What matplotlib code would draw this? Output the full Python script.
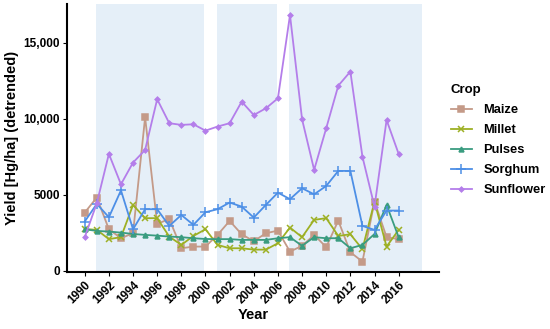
import numpy as np
import matplotlib.pyplot as plt

plt.rcParams['font.family'] = ['Liberation Sans', 'DejaVu Sans']

# Years and detrended yields (Hg/ha)
years = np.arange(1990, 2017)

maize = [3840, 4830, 2740, 2150, 2480, 10110, 3090, 3420, 1490, 1600,
         1600, 2370, 3290, 2410, 1950, 2480, 2650, 1270, 1650, 2370,
         1560, 3310, 1230, 610, 4560, 2220, 2090]
millet = [2760, 2700, 2090, 2220, 4340, 3470, 3470, 2260, 1710, 2300,
          2740, 1710, 1490, 1490, 1400, 1400, 1820, 2850, 2220, 3360,
          3470, 2300, 2410, 1430, 4560, 1600, 2700]
pulses = [2740, 2630, 2590, 2520, 2430, 2370, 2320, 2260, 2220, 2150,
          2100, 2090, 2090, 2040, 2040, 2040, 2150, 2220, 1650, 2220,
          2150, 2150, 1490, 1710, 2430, 4340, 2220]
sorghum = [3250, 4410, 3530, 5300, 2740, 4060, 4060, 2960, 3680, 3030,
           3860, 4060, 4500, 4230, 3510, 4340, 5150, 4720, 5440, 5040,
           5590, 6580, 6580, 2960, 2700, 3970, 3970]
sunflower = [2220, 4450, 7700, 5700, 7130, 7960, 11300, 9720, 9610, 9650,
             9230, 9500, 9720, 11140, 10260, 10700, 11360, 16840, 9980, 6650,
             9390, 12190, 13120, 7520, 4230, 9930, 7700]

crops = ["Maize", "Millet", "Pulses", "Sorghum", "Sunflower"]
series = [maize, millet, pulses, sorghum, sunflower]
colors = ["#C49A88", "#9DB024", "#3A9C80", "#4D8FE6", "#B47EEA"]
markers = ["s", "x", "^", "+", "D"]
msizes = [4.5, 5, 3.5, 7, 2.4]

# shaded periods
spans = [(1990.92, 1999.9), (2000.92, 2005.9), (2006.92, 2017.9)]

fig = plt.figure(figsize=(5.5, 3.29), dpi=100)
ax = fig.add_axes([0.1218, 0.172, 0.677, 0.816])

for a, b in spans:
    ax.axvspan(a, b, color="#E5EFF8", zorder=0, lw=0)

for name, vals, c, m, ms in zip(crops, series, colors, markers, msizes):
    ax.plot(years, vals, color=c, marker=m, markersize=ms, lw=1.3,
            markeredgewidth=1.1, label=name, zorder=3)

ax.set_xlim(1988.53, 2019.37)
ax.set_ylim(-100, 17570)
ax.set_xticks(np.arange(1990, 2017, 2))
ax.set_yticks([0, 5000, 10000, 15000])
ax.set_yticklabels(["0", "5000", "10,000", "15,000"])

for s in ["top", "right"]:
    ax.spines[s].set_visible(False)
for s in ["left", "bottom"]:
    ax.spines[s].set_linewidth(1.5)

ax.tick_params(axis="both", length=3, width=0.8, labelsize=8.5, pad=2)
for lbl in ax.get_xticklabels():
    lbl.set_rotation(45)
    lbl.set_ha("right")
    lbl.set_rotation_mode("anchor")
    lbl.set_fontweight("bold")
for lbl in ax.get_yticklabels():
    lbl.set_fontweight("bold")

ax.set_xlabel("Year", fontsize=10.5, fontweight="bold", labelpad=1)
ax.set_ylabel("Yield [Hg/ha] (detrended)", fontsize=10.5, fontweight="bold", labelpad=3)

leg = ax.legend(title="Crop", loc="upper left", bbox_to_anchor=(1.0, 0.745),
                frameon=False, prop={"size": 9.3, "weight": "bold"},
                title_fontproperties={"size": 9.5, "weight": "bold"},
                handlelength=1.6, handletextpad=0.9, labelspacing=0.62,
                alignment="left")

fig.savefig("out.png", dpi=100)
